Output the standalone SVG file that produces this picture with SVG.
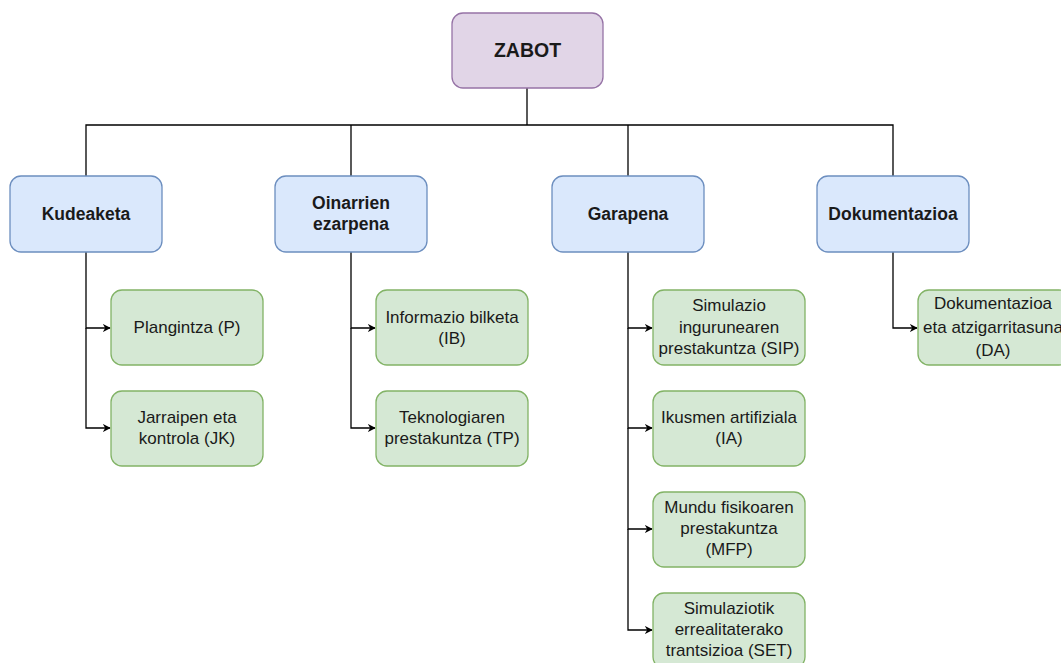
<svg xmlns="http://www.w3.org/2000/svg" width="1061" height="663" viewBox="0 0 1061 663">
  <style>
    .root { fill: #e1d5e7; stroke: #9673a6; stroke-width: 1.3; }
    .cat { fill: #dae8fc; stroke: #6c8ebf; stroke-width: 1.3; }
    .task { fill: #d5e8d4; stroke: #82b366; stroke-width: 1.3; }
    text { font-family: "Liberation Sans", Arial, sans-serif; fill: #1a1a1a; text-anchor: middle; }
    .t { font-size: 17px; }
    .b { font-size: 17.5px; font-weight: bold; }
    .big { font-size: 19.5px; font-weight: bold; }
    .edge { fill: none; stroke: #000; stroke-width: 1.3; }
  </style>
  <defs>
    <marker id="arrow" viewBox="0 0 10 10" refX="9" refY="5" markerWidth="8" markerHeight="8" markerUnits="userSpaceOnUse" orient="auto">
      <path d="M0,0 L10,5 L0,10 L3,5 Z" fill="#000"/>
    </marker>
  </defs>
  <rect width="1061" height="663" fill="#ffffff"/>

  <g id="connectors">
    <!-- trunk from the root down to the category bar -->
    <path class="edge" d="M527,88 V125"/>
    <path class="edge" d="M86,176 V125 H893 V176"/>
    <path class="edge" d="M351,125 V176"/>
    <path class="edge" d="M628,125 V176"/>
    <!-- Kudeaketa -->
    <path class="edge" d="M86,252 V328 H110" marker-end="url(#arrow)"/>
    <path class="edge" d="M86,328 V428 H110" marker-end="url(#arrow)"/>
    <!-- Oinarrien ezarpena -->
    <path class="edge" d="M351,252 V328 H375" marker-end="url(#arrow)"/>
    <path class="edge" d="M351,328 V428 H375" marker-end="url(#arrow)"/>
    <!-- Garapena -->
    <path class="edge" d="M628,252 V328 H652" marker-end="url(#arrow)"/>
    <path class="edge" d="M628,328 V428 H652" marker-end="url(#arrow)"/>
    <path class="edge" d="M628,428 V529 H652" marker-end="url(#arrow)"/>
    <path class="edge" d="M628,529 V630 H652" marker-end="url(#arrow)"/>
    <!-- Dokumentazioa -->
    <path class="edge" d="M893,252 V328 H917" marker-end="url(#arrow)"/>
  </g>

  <g id="zabot">
    <rect class="root" x="452" y="13" width="151" height="75" rx="11"/>
    <text class="big" x="527.5" y="57">ZABOT</text>
  </g>

  <g id="kudeaketa">
    <rect class="cat" x="10" y="176" width="152" height="76" rx="11"/>
    <text class="b" x="86" y="220">Kudeaketa</text>
  </g>
  <g id="oinarrien">
    <rect class="cat" x="275" y="176" width="152" height="76" rx="11"/>
    <text class="b" x="351" y="209">Oinarrien</text>
    <text class="b" x="351" y="230" style="text-anchor:middle">ezarpena</text>
  </g>
  <g id="garapena">
    <rect class="cat" x="552" y="176" width="152" height="76" rx="11"/>
    <text class="b" x="628" y="220">Garapena</text>
  </g>
  <g id="dokumentazioa">
    <rect class="cat" x="817" y="176" width="152" height="76" rx="11"/>
    <text class="b" x="893" y="220">Dokumentazioa</text>
  </g>

  <g id="plangintza">
    <rect class="task" x="111" y="290" width="152" height="75" rx="11"/>
    <text class="t" x="187" y="333">Plangintza (P)</text>
  </g>
  <g id="jarraipen">
    <rect class="task" x="111" y="391" width="152" height="75" rx="11"/>
    <text class="t" x="187" y="423">Jarraipen eta</text>
    <text class="t" x="187" y="444">kontrola (JK)</text>
  </g>

  <g id="informazio">
    <rect class="task" x="376" y="290" width="152" height="75" rx="11"/>
    <text class="t" x="452" y="323">Informazio bilketa</text>
    <text class="t" x="452" y="344">(IB)</text>
  </g>
  <g id="teknologiaren">
    <rect class="task" x="376" y="391" width="152" height="75" rx="11"/>
    <text class="t" x="452" y="423">Teknologiaren</text>
    <text class="t" x="452" y="444">prestakuntza (TP)</text>
  </g>

  <g id="sip">
    <rect class="task" x="653" y="290" width="152" height="75" rx="11"/>
    <text class="t" x="729" y="311">Simulazio</text>
    <text class="t" x="729" y="333">ingurunearen</text>
    <text class="t" x="729" y="354">prestakuntza (SIP)</text>
  </g>
  <g id="ia">
    <rect class="task" x="653" y="391" width="152" height="75" rx="11"/>
    <text class="t" x="729" y="423">Ikusmen artifiziala</text>
    <text class="t" x="729" y="444">(IA)</text>
  </g>
  <g id="mfp">
    <rect class="task" x="653" y="492" width="152" height="75" rx="11"/>
    <text class="t" x="729" y="513">Mundu fisikoaren</text>
    <text class="t" x="729" y="534">prestakuntza</text>
    <text class="t" x="729" y="555">(MFP)</text>
  </g>
  <g id="set">
    <rect class="task" x="653" y="593" width="152" height="75" rx="11"/>
    <text class="t" x="729" y="614">Simulaziotik</text>
    <text class="t" x="729" y="635">errealitaterako</text>
    <text class="t" x="729" y="656">trantsizioa (SET)</text>
  </g>

  <g id="da">
    <rect class="task" x="918" y="290" width="152" height="75" rx="11"/>
    <text class="t" x="993" y="309">Dokumentazioa</text>
    <text class="t" x="993" y="333">eta atzigarritasuna</text>
    <text class="t" x="993" y="356">(DA)</text>
  </g>
</svg>
